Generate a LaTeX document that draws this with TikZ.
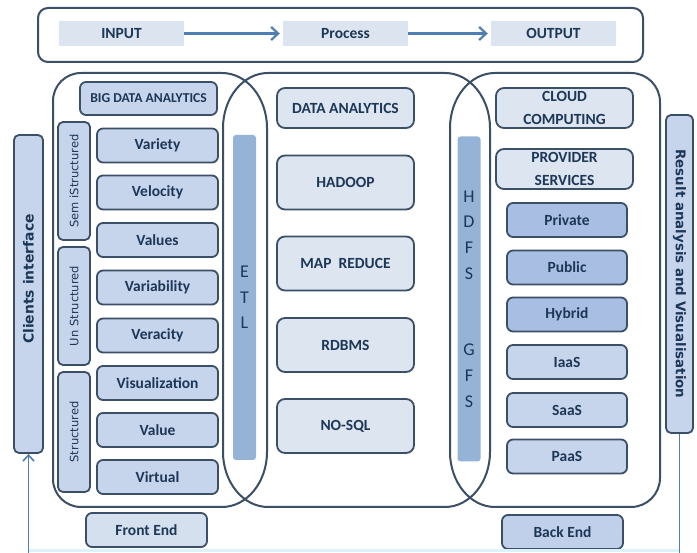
\documentclass[tikz,border=0pt]{standalone}
\usepackage{fontspec}
\setmainfont{Carlito}
\newfontfamily\vfont{DejaVu Sans}
\usetikzlibrary{arrows.meta}
\definecolor{edge}{HTML}{3B4F66}
\definecolor{txt}{HTML}{1D3757}
\definecolor{itemfill}{HTML}{C6D4EC}
\definecolor{lightfill}{HTML}{DCE5F0}
\definecolor{darkfill}{HTML}{A8BFE3}
\definecolor{barfill}{HTML}{95B3D7}
\definecolor{topfill}{HTML}{DBE4EF}
\definecolor{arrowc}{HTML}{4F7FB0}
\definecolor{footc}{HTML}{DDF2F9}
\tikzset{
  region/.style={draw=edge, line width=2},
  itembox/.style={draw=edge, line width=1.8, rounded corners=6, fill=itemfill, text=txt,
    font=\bfseries\fontsize{15.5}{18}\selectfont, minimum width=121, minimum height=34, inner sep=0},
  midbox/.style={draw=edge, line width=1.8, rounded corners=8, fill=lightfill, text=txt,
    font=\bfseries\fontsize{15.5}{18}\selectfont, minimum width=137, minimum height=54, inner sep=0},
  twoline/.style={midbox, minimum height=40, align=center, font=\bfseries\fontsize{15.5}{23}\selectfont},
  sidebox/.style={draw=edge, line width=1.8, rounded corners=5, fill=itemfill, text=txt,
    font=\vfont\fontsize{11.5}{13}\selectfont, minimum height=32, inner sep=0},
  vbar/.style={fill=barfill, rounded corners=3, minimum width=23, minimum height=325, inner sep=0,
    text=txt, align=center, font=\fontsize{18}{25.6}\selectfont},
  longbox/.style={draw=edge, line width=1.8, rounded corners=5, fill=itemfill, text=txt,
    font=\vfont\bfseries\fontsize{13.4}{16}\selectfont, minimum height=28, minimum width=318, inner sep=0},
  topbox/.style={fill=topfill, text=txt, font=\bfseries\fontsize{15.5}{18}\selectfont,
    minimum width=125, minimum height=25, inner sep=0},
  flow/.style={draw=arrowc, line width=2.3, -{Straight Barb[length=7,width=13,line width=2.2]}},
}
\begin{document}
\begin{tikzpicture}[x=1pt,y=-1pt]
\useasboundingbox (0,0) rectangle (697,553);
\fill[white] (0,0) rectangle (697,553);

% top flow
\draw[region, rounded corners=10] (38,8) rectangle (643,62);
\node[topbox] (input) at (121.5,33.5) {INPUT};
\node[topbox] (process) at (345.5,33.5) {Process};
\node[topbox] (output) at (553.5,33.5) {OUTPUT};
\draw[flow, shorten >=3] (input) -- (process);
\draw[flow, shorten >=3] (process) -- (output);

% three overlapping regions
\draw[region] (81,73) -- (222,73) .. controls (247,73) and (267,98) .. (267,128) -- (267,452)
  .. controls (267,482) and (247,507) .. (222,507) -- (81,507) .. controls (65.5,507) and (53,494.5) .. (53,479)
  -- (53,101) .. controls (53,85.5) and (65.5,73) .. (81,73) -- cycle;
\draw[region] (268,73) -- (445,73) .. controls (470,73) and (490,98) .. (490,128) -- (490,452)
  .. controls (490,482) and (470,507) .. (445,507) -- (268,507) .. controls (243,507) and (223,482) .. (223,452)
  -- (223,128) .. controls (223,98) and (243,73) .. (268,73) -- cycle;
\draw[region] (495,73) -- (631,73) .. controls (647,73) and (660,86) .. (660,102) -- (660,478)
  .. controls (660,494) and (647,507) .. (631,507) -- (495,507) .. controls (470,507) and (450,482) .. (450,452)
  -- (450,128) .. controls (450,98) and (470,73) .. (495,73) -- cycle;

% left region
\node[itembox, minimum width=137, minimum height=33, font=\bfseries\fontsize{13.6}{15}\selectfont] (bda) at (148.5,98.5) {BIG DATA ANALYTICS};
\node[sidebox, rotate=90, minimum width=118] (semi) at (74,181) {Sem iStructured};
\node[sidebox, rotate=90, minimum width=118] (unst) at (74,306) {Un Structured};
\node[sidebox, rotate=90, minimum width=120] (stru) at (74,432) {Structured};
\node[itembox] (variety) at (157.5,145.5) {Variety};
\node[itembox] (velocity) at (157.5,192.5) {Velocity};
\node[itembox] (values) at (157.5,240) {Values};
\node[itembox] (variability) at (157.5,287.5) {Variability};
\node[itembox] (veracity) at (157.5,335.5) {Veracity};
\node[itembox] (visualization) at (157.5,383) {Visualization};
\node[itembox] (value) at (157.5,430) {Value};
\node[itembox] (virtual) at (157.5,477) {Virtual};

% ETL bar
\node[vbar] (etl) at (244.5,297.5) {E\\T\\L};

% middle region
\node[midbox, minimum height=40] (da) at (345.5,108) {DATA ANALYTICS};
\node[midbox] (hadoop) at (345.5,182.5) {HADOOP};
\node[midbox] (mapred) at (345.5,263.5) {MAP~~REDUCE};
\node[midbox] (rdbms) at (345.5,345) {RDBMS};
\node[midbox] (nosql) at (345.5,426) {NO-SQL};

% HDFS / GFS bar
\node[vbar] (hdfs) at (469,299) {H\\D\\F\\S\\[51.2pt]G\\F\\S};

% right region
\node[twoline] (cloud) at (564.5,108) {\raisebox{-2pt}{CLOUD}\\\raisebox{-2pt}{COMPUTING}};
\node[twoline] (provider) at (564.5,169) {\raisebox{-2pt}{PROVIDER}\\\raisebox{-2pt}{SERVICES}};
\node[itembox, fill=darkfill, minimum width=120] (private) at (567,220) {Private};
\node[itembox, fill=darkfill, minimum width=120] (public) at (567,267.5) {Public};
\node[itembox, fill=darkfill, minimum width=120] (hybrid) at (567,314.5) {Hybrid};
\node[itembox, minimum width=120] (iaas) at (567,362) {IaaS};
\node[itembox, minimum width=120] (saas) at (567,410) {SaaS};
\node[itembox, minimum width=120] (paas) at (567,456.5) {PaaS};

% front / back end
\node[itembox, fill=lightfill!70!itemfill] (front) at (146.5,530) {Front End};
\node[itembox, fill=itemfill!80!darkfill] (back) at (562.5,532) {Back End};

% side boxes
\node[longbox, rotate=90, minimum height=29] (client) at (28.5,294) {};
\node[text=txt, font=\vfont\bfseries\fontsize{13.9}{16}\selectfont, rotate=90, inner sep=0] (clienttext) at (28.5,279) {Clients interface};
\node[longbox, rotate=-90, minimum height=27] (result) at (679.5,274) {Result analysis and Visualisation};

% feedback lines
\coordinate (clfoot) at (28.5,550.5);
\coordinate (rsfoot) at (679.5,550.5);
\coordinate (clstart) at (28.5,553);
\coordinate (rsend) at (679.5,553);
\draw[footc, line width=3] (clfoot) -- (rsfoot);
\draw[draw=arrowc, line width=1.5] (result.east) -- (rsend);
\draw[draw=arrowc, line width=1.5, -{Straight Barb[length=6,width=11,line width=1.6]}] (clstart) -- (client.west);
\end{tikzpicture}
\end{document}
